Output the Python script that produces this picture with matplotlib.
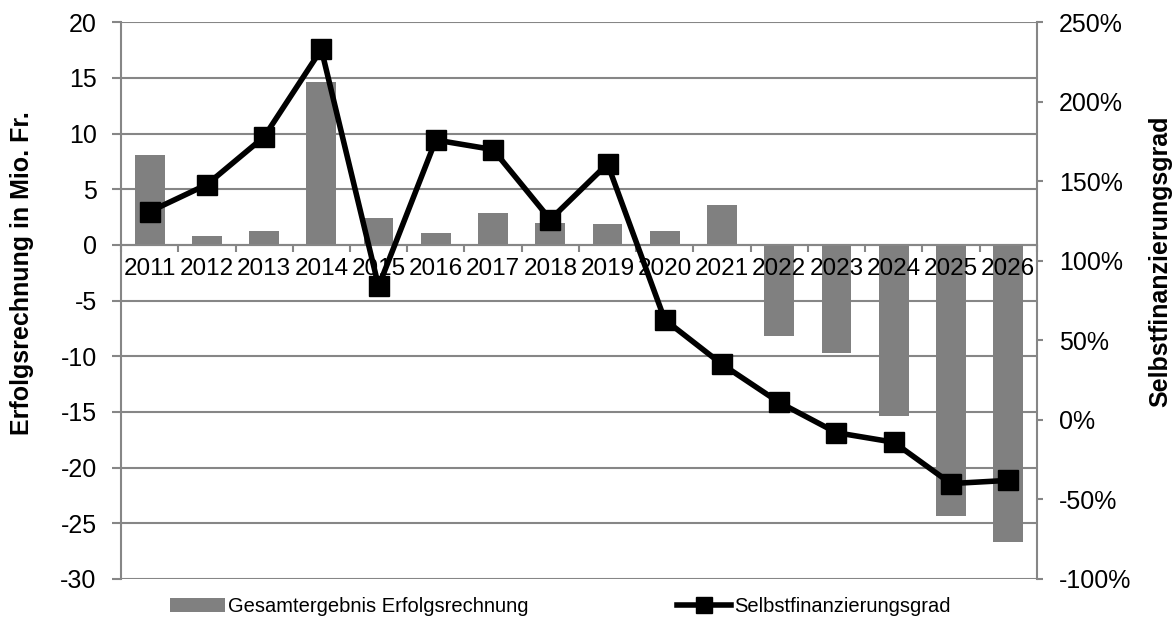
import matplotlib
matplotlib.use("Agg")
import matplotlib.pyplot as plt
import numpy as np
from matplotlib.patches import Patch
from matplotlib.lines import Line2D

years = ["2011", "2012", "2013", "2014", "2015", "2016", "2017", "2018",
         "2019", "2020", "2021", "2022", "2023", "2024", "2025", "2026"]
ergebnis = [8.1, 0.8, 1.25, 14.6, 2.45, 1.05, 2.9, 1.95,
            1.85, 1.3, 3.6, -8.2, -9.7, -15.4, -24.3, -26.7]
sfg = [131, 148, 178, 233, 84, 176, 170, 126,
       161, 63, 35, 11, -8, -14, -40, -38]

left_ticks = [-30, -25, -20, -15, -10, -5, 0, 5, 10, 15, 20]
right_ticks = [-100, -50, 0, 50, 100, 150, 200, 250]

plt.rcParams['font.family'] = ['Liberation Sans', 'DejaVu Sans']
GRAY = "#868686"

fig = plt.figure(figsize=(11.74, 6.25), dpi=100)
ax = fig.add_axes([0.1031, 0.0736, 0.7800, 0.8907])
x = np.arange(len(years))

ax.set_xlim(-0.5, len(years) - 0.5)
ax.set_ylim(-30, 20)
ax.set_yticks(left_ticks)
ax.set_yticklabels([str(t) for t in left_ticks], fontsize=18)
ax.yaxis.grid(True, color=GRAY, linewidth=1.5)
ax.set_axisbelow(True)
ax.bar(x, ergebnis, width=0.52, color="#808080", zorder=2)

for s in ["top", "right"]:
    ax.spines[s].set_visible(False)
ax.spines["left"].set_color(GRAY)
ax.spines["left"].set_linewidth(1.5)
ax.spines["bottom"].set_position(("data", 0))
ax.spines["bottom"].set_color(GRAY)
ax.spines["bottom"].set_linewidth(1.5)
ax.spines["bottom"].set_zorder(3)
ax.tick_params(axis="y", direction="out", length=6.5, width=1.5, color=GRAY, pad=11)

ax.set_xticks(np.arange(len(years) + 1) - 0.5)
ax.set_xticklabels([])
ax.tick_params(axis="x", which="major", direction="out", length=5, width=1.5, color=GRAY)
ax.set_xticks(x, minor=True)
ax.set_xticklabels(years, minor=True, fontsize=17.5)
ax.tick_params(axis="x", which="minor", length=0, pad=9.5)
ax.xaxis.set_zorder(3)

ax.set_ylabel("Erfolgsrechnung in Mio. Fr.", fontsize=18, fontweight="bold")
ax.yaxis.set_label_coords(-0.095, 0.55)

ax2 = ax.twinx()
ax2.set_ylim(-100, 250)
ax2.set_yticks(right_ticks)
ax2.set_yticklabels([f"{t}%" for t in right_ticks], fontsize=18)
for s in ["top", "left", "bottom"]:
    ax2.spines[s].set_visible(False)
ax2.spines["right"].set_color(GRAY)
ax2.spines["right"].set_linewidth(1.5)
ax2.tick_params(axis="y", direction="out", length=4.5, width=1.5, color=GRAY, pad=11.5)
ax2.plot(x, sfg, color="black", linewidth=4, marker="s", markersize=14, zorder=5)
ax2.set_ylabel("Selbstfinanzierungsgrad", fontsize=18, fontweight="bold", rotation=90)
ax2.yaxis.set_label_coords(1.1216, 0.57)

handles = [Patch(facecolor="#808080", edgecolor="none"),
           Line2D([], [], color="black", linewidth=4, marker="s", markersize=11)]
fig.legend(handles, ["Gesamtergebnis Erfolgsrechnung", "Selbstfinanzierungsgrad"],
           loc="center", bbox_to_anchor=(0.4775, 0.029), ncol=2, frameon=False,
           fontsize=14.5, handlelength=2.7, handletextpad=0.15, columnspacing=7.4)

fig.savefig("out.png", dpi=100)
